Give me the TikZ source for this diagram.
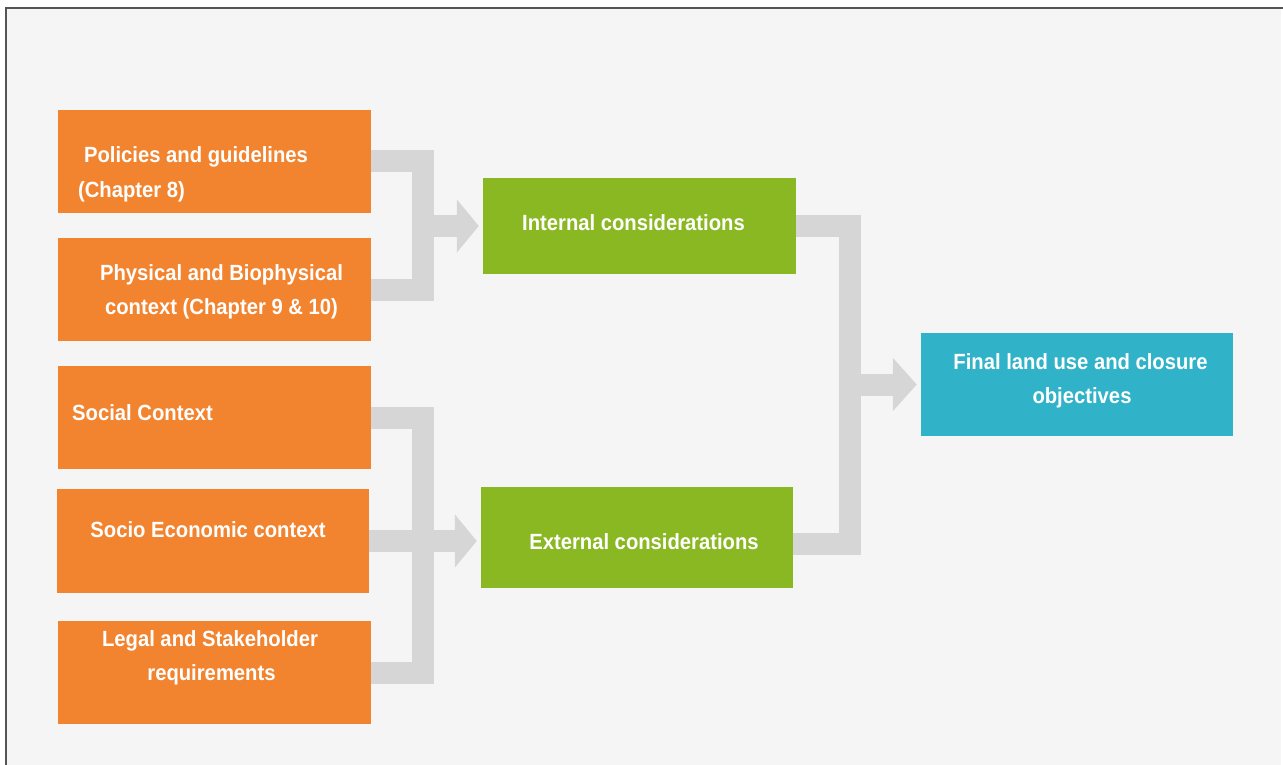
\documentclass[tikz,border=0pt]{standalone}
\usepackage{fontspec}
\newfontfamily\lblfont{Liberation Sans}[FakeStretch=0.92]
\usetikzlibrary{arrows.meta}
\definecolor{bgc}{HTML}{F5F5F5}
\definecolor{framec}{HTML}{555555}
\definecolor{orng}{HTML}{F28430}
\definecolor{grn}{HTML}{8AB823}
\definecolor{blu}{HTML}{30B2C8}
\definecolor{bandc}{HTML}{D6D6D6}
\tikzset{
  boxnode/.style={rectangle, inner sep=0pt, minimum width=313pt, minimum height=103pt, draw=none},
  txt/.style={inner sep=0pt, anchor=base, text=white, font=\lblfont\bfseries\fontsize{22}{26}\selectfont},
  band/.style={draw=bandc, line width=22pt, miter limit=10, line join=miter},
  bandarrow/.style={band, -{Triangle[width=52pt,length=22pt]}, shorten >=4pt}
}
\begin{document}
\begin{tikzpicture}[x=1pt,y=-1pt]
\useasboundingbox (0,0) rectangle (1283,765);
\fill[white] (0,0) rectangle (1283,765);
\fill[bgc] (6,8) rectangle (1281,770);
\draw[framec, line width=2pt] (6,770) -- (6,8) -- (1283,8);

% boxes
\node[boxnode, fill=orng] (p1) at (214.5,161.5) {};
\node[boxnode, fill=orng] (p2) at (214.5,289.5) {};
\node[boxnode, fill=orng] (s3) at (214.5,417.5) {};
\node[boxnode, fill=orng, minimum width=312pt, minimum height=104pt] (s4) at (213,541) {};
\node[boxnode, fill=orng] (s5) at (214.5,672.5) {};
\node[boxnode, fill=grn, minimum height=96pt] (int) at (639.5,226) {};
\node[boxnode, fill=grn, minimum width=312pt, minimum height=101pt] (ext) at (637,537.5) {};
\node[boxnode, fill=blu, minimum width=312pt] (fin) at (1077,384.5) {};

% junction coordinates
\coordinate (j1) at (422.5,0);
\coordinate (j3) at (849.5,0);
\coordinate (exto) at ([yshift=-6pt]ext.east);

% connectors
\draw[band] (p1.east) -| (j1 |- p2.east) -- (p2.east);
\draw[bandarrow] (j1 |- int.west) -- (int.west);
\draw[band] (s3.east) -| (j1 |- s5.east) -- (s5.east);
\draw[bandarrow] (s4.east) -- (s4.east -| ext.west);
\draw[band] (int.east) -| (j3 |- exto) -- (exto);
\draw[bandarrow, -{Triangle[width=52pt,length=24pt]}] (j3 |- fin.west) -- (fin.west);

% texts
\node[txt] (t1a) at (196,163) {Policies and guidelines};
\node[txt] (t1b) at (131.5,197) {(Chapter 8)};
\node[txt] (t2a) at (221.5,280) {Physical and Biophysical};
\node[txt] (t2b) at (221.5,314) {context (Chapter 9 \& 10)};
\node[txt] (t3) at (142.5,420) {Social Context};
\node[txt] (t4) at (208,537) {Socio Economic context};
\node[txt] (t5a) at (210,646) {Legal and Stakeholder};
\node[txt] (t5b) at (211.5,680) {requirements};
\node[txt] (ti) at (633.5,230) {Internal considerations};
\node[txt] (te) at (644,549) {External considerations};
\node[txt] (tfa) at (1080.5,369) {Final land use and closure};
\node[txt] (tfb) at (1082,403) {objectives};
\end{tikzpicture}
\end{document}
